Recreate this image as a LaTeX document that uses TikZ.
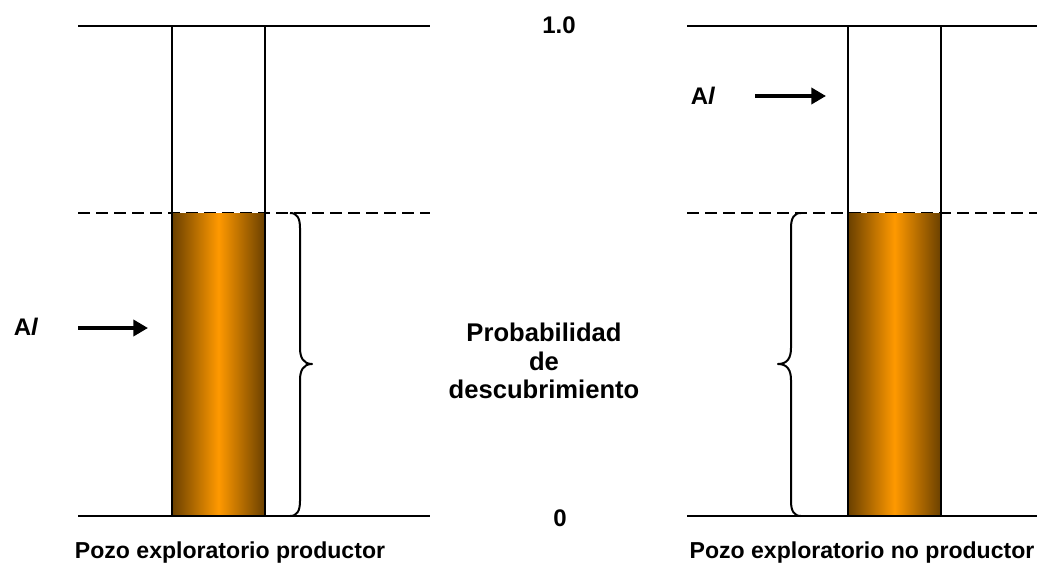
\documentclass[tikz,border=0pt]{standalone}
\usepackage{fontspec}
\setmainfont{Liberation Sans}
\usetikzlibrary{arrows.meta,positioning}
\definecolor{wellorange}{HTML}{FF9900}
\definecolor{welldark}{HTML}{6A4000}

\begin{document}
\begin{tikzpicture}[x=0.75pt,y=-0.75pt,>=Triangle,line join=round,
  font=\bfseries\fontsize{18}{21.5}\selectfont,
  level/.style={line width=1.4pt},
  cut/.style={line width=1.3pt,dash pattern=on 9pt off 4.5pt},
  column/.style={draw,line width=1.4pt},
  pay/.style={left color=welldark,right color=welldark,middle color=wellorange},
  curly/.style={line width=1.5pt},
  pointer/.style={-{Triangle[length=11pt,width=12pt]},line width=3.3pt},
  caption/.style={font=\bfseries\fontsize{17.3}{20}\selectfont},
  middle/.style={font=\bfseries\fontsize{19.2}{21.5}\selectfont,align=center}]
\path[use as bounding box] (0,0) rectangle (1047,575);

% niveles 1.0, corte y 0
\foreach \xa/\xb in {78/430,687/1037}{
  \draw[level] (\xa,26)--(\xb,26);
  \draw[cut] (\xa,213)--(\xb,213);
  \draw[level] (\xa,516)--(\xb,516);
}

% columnas
\foreach \xa/\xb in {172/265,848/941}{
  \shade[pay] (\xa,213) rectangle (\xb,516);
  \draw[column] (\xa,26) rectangle (\xb,516);
}

% llaves
\draw[curly] (290,213) .. controls (297,213) and (300,218) .. (300,228)
  -- (300,348) .. controls (300,357) and (303,364) .. (312,364)
  .. controls (303,364) and (300,371) .. (300,380)
  -- (300,501) .. controls (300,511) and (297,516) .. (290,516);
\draw[curly] (801,213) .. controls (794,213) and (791,218) .. (791,228)
  -- (791,348) .. controls (791,357) and (788,364) .. (778,364)
  .. controls (788,364) and (791,371) .. (791,380)
  -- (791,501) .. controls (791,511) and (794,516) .. (801,516);

% textos
\node (top) at (559,25) {1.0};
\node (bottom) at (560,518) {0};
\node[middle] (prob) at (544,361) {Probabilidad\\de\\descubrimiento};
\node (alleft) at (26,327) {A\textit{l}};
\node (alright) at (703,96) {A\textit{l}};
\coordinate (hitleft) at (148,328);
\coordinate (hitright) at (826,96);
\draw[pointer] (78,328)--(hitleft);
\draw[pointer] (755,96)--(hitright);
\node[caption] (prod) at (230,553) {Pozo exploratorio productor};
\node[caption] (noprod) at (862,553) {Pozo exploratorio no productor};
\end{tikzpicture}
\end{document}
